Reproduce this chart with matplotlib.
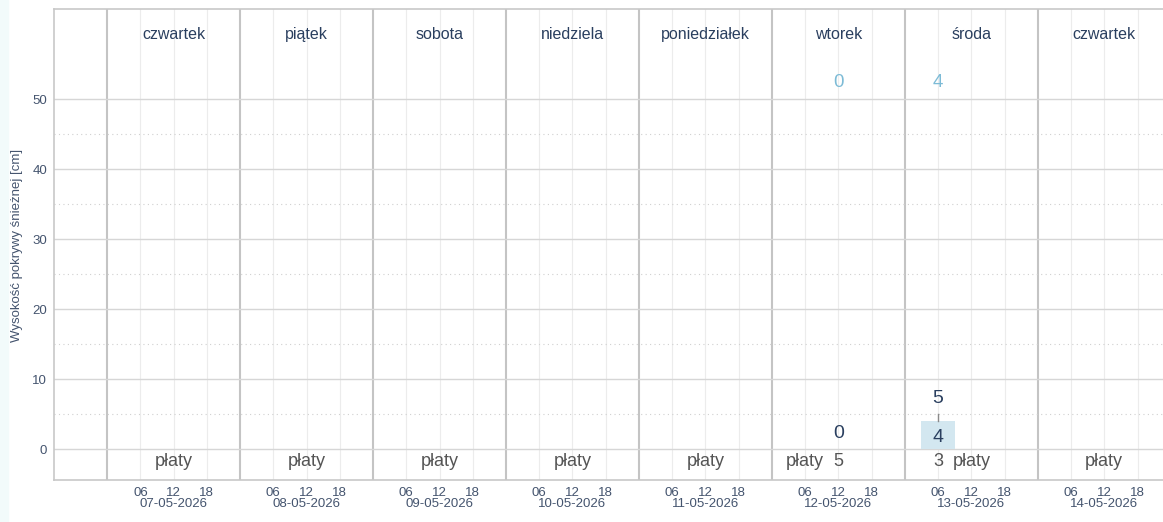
import pandas as pd
import matplotlib.pyplot as plt
import matplotlib.transforms as mtransforms

# data
days = ['2026-05-07', '2026-05-08', '2026-05-09', '2026-05-10',
        '2026-05-11', '2026-05-12', '2026-05-13', '2026-05-14']
day_names = ['czwartek', 'piątek', 'sobota', 'niedziela',
             'poniedziałek', 'wtorek', 'środa', 'czwartek']

# snow depth bars (cm)
bar_times = ['2026-05-13 06:00']
bar_depth = [4]
bar_max = [5]

# depth labels drawn without a bar
zero_times = ['2026-05-12 12:00']
zero_depth = [0]

# fresh snow (top row, light blue)
fresh_times = ['2026-05-12 12:00', '2026-05-13 06:00']
fresh_values = [0, 4]

# precipitation type label + amount (bottom row)
type_times = ['2026-05-07 12:00', '2026-05-08 12:00', '2026-05-09 12:00',
              '2026-05-10 12:00', '2026-05-11 12:00', '2026-05-12 06:00',
              '2026-05-13 12:00', '2026-05-14 12:00']
type_labels = ['płaty'] * 8
amount_times = ['2026-05-12 12:00', '2026-05-13 06:00']
amount_values = [5, 3]


def main():
    plt.rcParams['font.family'] = ['Liberation Sans', 'DejaVu Sans']
    navy = '#2a3f5f'
    slate = '#44546e'

    fig = plt.figure(figsize=(11.63, 5.22), dpi=100)
    fig.patches.append(plt.Rectangle((0, 0), 0.007, 1, transform=fig.transFigure,
                                     color='#f2fbfb', zorder=0))
    ax = fig.add_axes([0.0464, 0.0805, 0.9536, 0.9023])

    day_ts = pd.to_datetime(days)
    start = day_ts[0] - pd.Timedelta(hours=9.6)
    end = day_ts[-1] + pd.Timedelta(hours=22.6)
    ax.set_xlim(start, end)
    ax.set_ylim(-4.4, 62.9)

    # grid
    ax.set_yticks([0, 10, 20, 30, 40, 50])
    ax.set_yticks([5, 15, 25, 35, 45], minor=True)
    ax.grid(axis='y', which='major', color='#d6d6d6', lw=1)
    ax.grid(axis='y', which='minor', color='#d0d0d0', lw=0.8, ls=(0, (1, 3)))
    for d in day_ts:
        ax.axvline(d, color='#c4c4c4', lw=1.5, zorder=1)
        for h in (6, 12, 18):
            ax.axvline(d + pd.Timedelta(hours=h), color='#ececec', lw=0.8, zorder=0.5)

    # x ticks: hours, dates written under the noon tick
    ticks, labels = [], []
    for d in day_ts:
        for h in (6, 12, 18):
            ticks.append(d + pd.Timedelta(hours=h))
            labels.append('%02d' % h)
    ax.set_xticks(ticks)
    ax.set_xticklabels(labels, fontsize=9.5, color=slate)
    ax.tick_params(axis='x', length=0, pad=5)
    ax.tick_params(axis='y', which='both', length=0, pad=5, labelsize=9.5, labelcolor=slate)
    ax.set_yticklabels([str(v) for v in [0, 10, 20, 30, 40, 50]])
    trans = mtransforms.blended_transform_factory(ax.transData, fig.transFigure)
    for d in day_ts:
        ax.text(d + pd.Timedelta(hours=12), 1 - 504 / 522, d.strftime('%d-%m-%Y'),
                transform=trans, ha='center', va='center', fontsize=9.5, color=slate)
    fig.text(17 / 1163, 1 - 245 / 522, 'Wysokość pokrywy śnieżnej [cm]', rotation=90,
             ha='center', va='center', fontsize=9.5, color=slate)

    for s in ax.spines.values():
        s.set_color('#c8c8c8')
        s.set_linewidth(1.2)
    ax.spines['right'].set_visible(False)

    # bars
    bt = pd.to_datetime(bar_times)
    ax.bar(bt, bar_depth, width=0.25, color='#d3e7f0', zorder=2)
    for t, v, m in zip(bt, bar_depth, bar_max):
        ax.plot([t, t], [v, m], color='#8a8a8a', lw=1, zorder=3)
        ax.text(t, v / 2 - 0.3, str(v), ha='center', va='center', fontsize=14, color=navy, zorder=4)
        ax.text(t, m + 2.3, str(m), ha='center', va='center', fontsize=14, color=navy, zorder=4)
    for t, v in zip(pd.to_datetime(zero_times), zero_depth):
        ax.text(t, v + 2.3, str(v), ha='center', va='center', fontsize=14, color=navy)

    # day names and fresh snow on top
    for d, name in zip(day_ts, day_names):
        ax.text(d + pd.Timedelta(hours=12), 59.3, name, ha='center', va='center',
                fontsize=11.5, color=navy)
    for t, v in zip(pd.to_datetime(fresh_times), fresh_values):
        ax.text(t, 52.4, str(v), ha='center', va='center', fontsize=13.5, color='#7dbbd6')

    # bottom row
    for t, lab in zip(pd.to_datetime(type_times), type_labels):
        ax.text(t, -1.7, lab, ha='center', va='center', fontsize=13, color='#555555')
    for t, v in zip(pd.to_datetime(amount_times), amount_values):
        ax.text(t, -1.7, str(v), ha='center', va='center', fontsize=13, color='#555555')

    fig.savefig('out.png', dpi=100)


if __name__ == "__main__":
    main()
